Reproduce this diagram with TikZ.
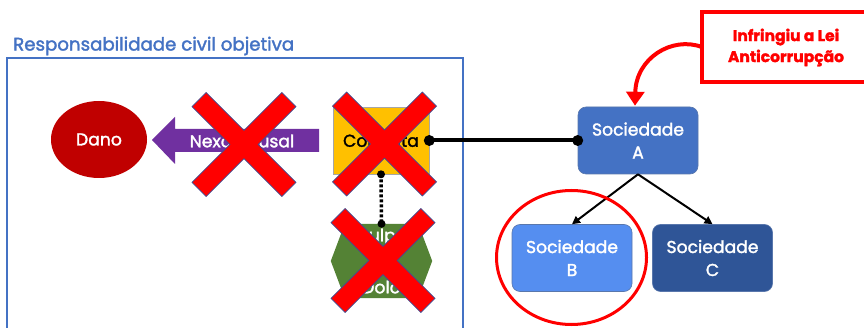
\documentclass[tikz,border=0pt]{standalone}
\usepackage{fontspec}
\setmainfont{Poppins}[FakeBold=1.8]
\usetikzlibrary{arrows.meta,calc,shapes.geometric}
\definecolor{tblue}{RGB}{68,114,196}
\definecolor{danored}{RGB}{192,0,0}
\definecolor{nexopurple}{RGB}{112,48,160}
\definecolor{condyellow}{RGB}{255,192,0}
\definecolor{hexgreen}{RGB}{84,130,53}
\definecolor{socblue}{RGB}{68,114,196}
\definecolor{soclight}{RGB}{85,142,240}
\definecolor{socdark}{RGB}{47,85,151}
\definecolor{xred}{RGB}{255,0,0}
\definecolor{xedge}{RGB}{60,80,150}
\tikzset{
  boxtext/.style={font=\fontsize{17.2}{23}\selectfont, align=center, inner sep=0pt},
  socbox/.style={boxtext, rounded corners=8pt, minimum width=120pt, minimum height=67pt, text=white, draw=socdark!80, line width=0.6pt},
  bigx/.pic={\filldraw[fill=xred,draw=xedge,line width=0.7pt]
     (37.9,52) -- (52,37.9) -- (14.1,0) -- (52,-37.9) -- (37.9,-52) -- (0,-14.1)
     -- (-37.9,-52) -- (-52,-37.9) -- (-14.1,0) -- (-52,37.9) -- (-37.9,52) -- (0,14.1) -- cycle;},
  dotend/.style={fill=black},
}
\begin{document}
\begin{tikzpicture}[x=1pt,y=-1pt]
\useasboundingbox[fill=white] (0,0) rectangle (864,328);

% title and frame
\node[anchor=west, text=tblue, inner sep=0pt, font=\fontsize{18.2}{20}\selectfont] (title) at (13,46) {Responsabilidade civil objetiva};
\draw[tblue, line width=2.2pt] (7,328) -- (7,58) -- (463,58) -- (463,328);

% Dano
\node[ellipse, fill=danored, minimum width=96pt, minimum height=77pt, inner sep=0pt, text=white, boxtext] (dano) at (99,139.5) {Dano};

% Nexo causal arrow
\fill[nexopurple] (152,140) -- (175,117) -- (175,129) -- (319,129) -- (319,152) -- (175,152) -- (175,164) -- cycle;
\node[boxtext, text=white] (nexo) at (242,141) {Nexo causal};

% Conduta
\node[boxtext, fill=condyellow, draw=gray!70, line width=0.6pt, minimum width=96pt, minimum height=67pt, text=black] (conduta) at (381,140.5) {Conduta};

% Culpa ou Dolo hexagon
\node[minimum width=101pt, minimum height=74pt, inner sep=0pt] (hexa) at (381.5,261) {};
\fill[hexgreen] (hexa.west) -- ($(hexa.north west)+(14,0)$) -- ($(hexa.north east)+(-14,0)$) -- (hexa.east)
   -- ($(hexa.south east)+(-14,0)$) -- ($(hexa.south west)+(14,0)$) -- cycle;
\node[boxtext, text=white, font=\fontsize{17.2}{26}\selectfont] (hextext) at (hexa.center) {Culpa\\ou\\Dolo};

% red crosses
\pic at (244,144.5) {bigx};
\pic at (384.5,144) {bigx};
\pic at (383,260.5) {bigx};

% Sociedades
\node[socbox, fill=socblue] (socA) at (638,140.5) {Sociedade\\A};
\node[socbox, fill=soclight] (socB) at (572,258) {Sociedade\\B};
\node[socbox, fill=socdark] (socC) at (712.5,258) {Sociedade\\C};

% connectors
\draw[line width=4pt] (conduta.east) -- (socA.west);
\fill[dotend] (conduta.east) circle (5.5);
\fill[dotend] (socA.west) circle (5.5);
\draw[line width=3.5pt, dash pattern=on 3pt off 2pt] (conduta.south) -- (hexa.north);
\fill[dotend] (conduta.south) circle (4);
\fill[dotend] (hexa.north) circle (4);

\draw[line width=2pt, -{Triangle[length=8pt,width=8pt]}] (socA.south) -- (socB.north);
\draw[line width=2pt, -{Triangle[length=8pt,width=8pt]}] (socA.south) -- (socC.north);

% red circle around B
\draw[xred, line width=3pt] (571.5,257.5) ellipse [x radius=75, y radius=67];

% callout
\node[minimum width=164pt, minimum height=70pt, inner sep=0pt] (callout) at (784,47) {};
\draw[xred, line width=4pt] (864,12) -- (702,12) -- (702,82) -- (864,82);
\node[boxtext, text=xred, font=\fontsize{15.5}{21}\selectfont\bfseries] (calltext) at (786,47.5) {Infringiu a Lei\\Anticorrupção};
\draw[xred, line width=4pt, -{Triangle[length=14pt,width=18pt]}] (callout.west) .. controls (672,36) and (636,58) .. ($(socA.north)+(-3,-1)$);
\end{tikzpicture}
\end{document}
